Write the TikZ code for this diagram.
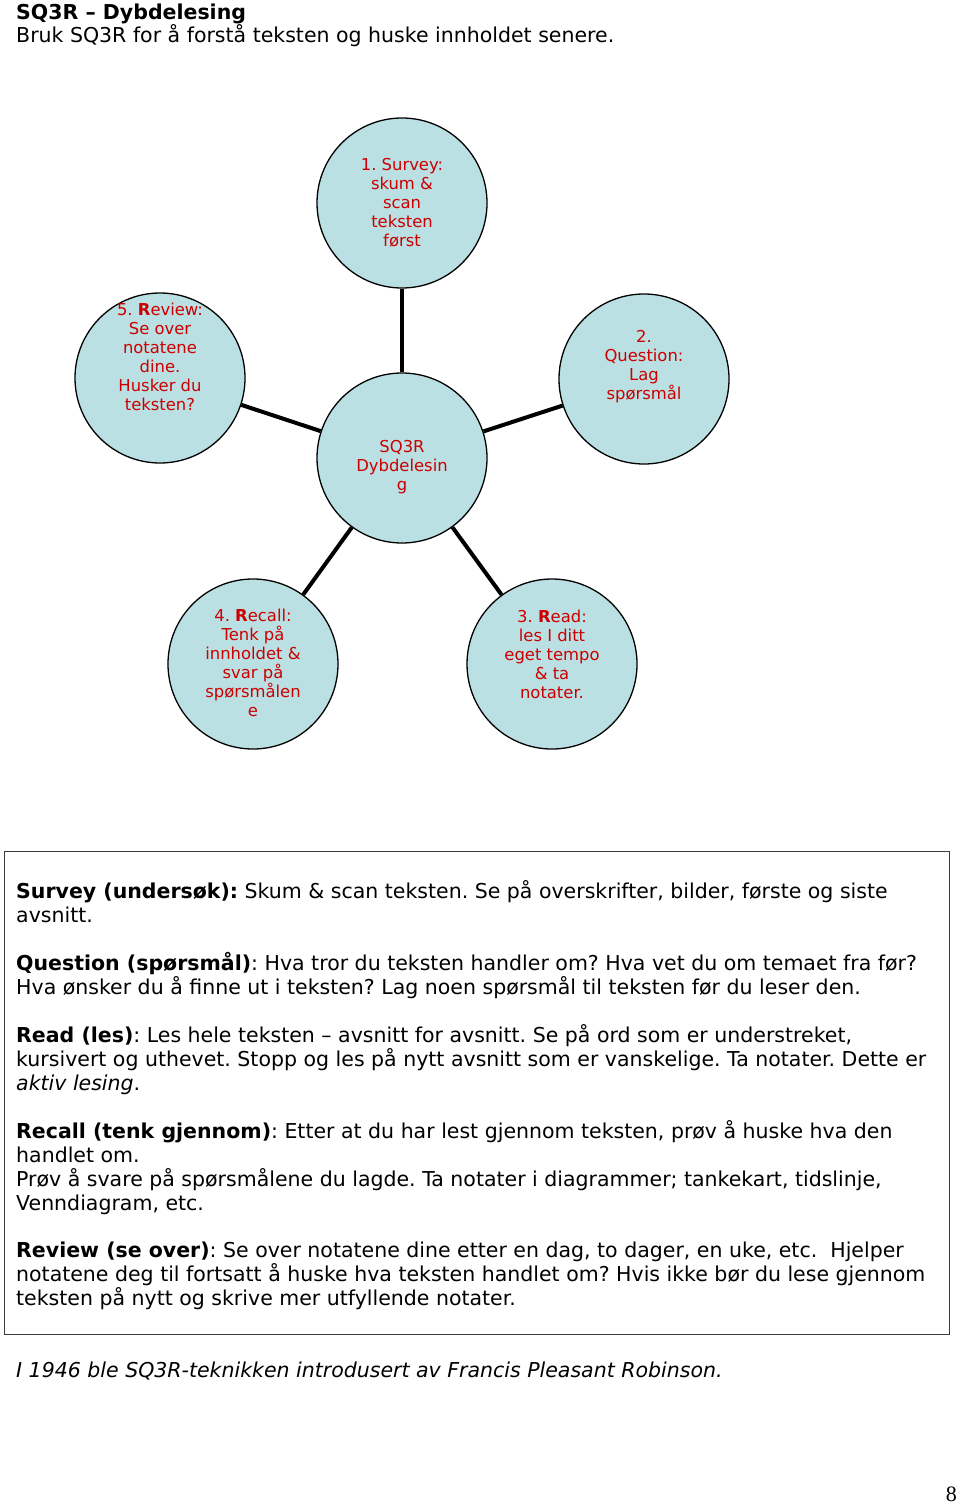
\documentclass[tikz,border=0pt]{standalone}
\usepackage{fontspec}
\setmainfont{DejaVu Sans}
\newfontfamily\pagefont{Liberation Serif}
\definecolor{fillblue}{RGB}{187,224,227}
\definecolor{txtred}{RGB}{204,0,0}
\definecolor{boxgray}{RGB}{60,60,60}
\frenchspacing
\begin{document}
\begin{tikzpicture}[x=1pt,y=1pt,
  bubble/.style={circle,draw=black,line width=1.3pt,fill=fillblue,minimum size=170pt,inner sep=0pt},
  btext/.style={text=txtred,align=center,font=\frenchspacing\fontsize{16.4}{19}\selectfont,inner sep=0pt},
  spoke/.style={line width=4pt,black},
  body/.style={anchor=base west,inner sep=0pt,font=\frenchspacing\fontsize{20.5}{24}\selectfont},
  frame/.style={draw=boxgray,line width=1.3pt,anchor=north west,minimum width=945pt,minimum height=483pt,inner sep=0pt}]
\useasboundingbox (0,0) rectangle (960,-1503);

% title
\node[body,font=\fontsize{20.5}{24}\selectfont\bfseries] (title) at (16,-20) {SQ3R – Dybdelesing};
\node[body] (sub) at (16,-43) {Bruk SQ3R for å forstå teksten og huske innholdet senere.};

% circles
\node[bubble] (c)  at (402,-458) {};
\node[bubble] (s1) at (402,-203) {};
\node[bubble] (s2) at (644,-379) {};
\node[bubble] (s3) at (552,-664) {};
\node[bubble] (s4) at (253,-664) {};
\node[bubble] (s5) at (160,-378) {};

\foreach \s in {s1,s2,s3,s4,s5} \draw[spoke] (c) -- (\s);

\node[btext] (t0) at (402,-467) {SQ3R\\Dybdelesin\\g};
\node[btext] (t1) at (402,-203) {1. Survey:\\skum \&\\scan\\teksten\\først};
\node[btext] (t2) at (644,-367) {2.\\Question:\\Lag\\spørsmål};
\node[btext] (t3) at (552,-654) {3. \textbf{R}ead:\\les I ditt\\eget tempo\\\& ta\\notater.};
\node[btext] (t4) at (253,-663) {4. \textbf{R}ecall:\\Tenk på\\innholdet \&\\svar på\\spørsmålen\\e};
\node[btext] (t5) at (160,-357) {5. \textbf{R}eview:\\Se over\\notatene\\dine.\\Husker du\\teksten?};

% box
\node[frame] (box) at (4,-851) {};
\node[body] (l1) at (16,-898) {\textbf{Survey (undersøk):} Skum \& scan teksten. Se på overskrifter, bilder, første og siste};
\node[body] (l2) at (16,-922) {avsnitt.};
\node[body] (l3) at (16,-970) {\textbf{Question (spørsmål)}: Hva tror du teksten handler om? Hva vet du om temaet fra før?};
\node[body] (l4) at (16,-994) {Hva ønsker du å finne ut i teksten? Lag noen spørsmål til teksten før du leser den.};
\node[body] (l5) at (16,-1042) {\textbf{Read (les)}: Les hele teksten – avsnitt for avsnitt. Se på ord som er understreket,};
\node[body] (l6) at (16,-1066) {kursivert og uthevet. Stopp og les på nytt avsnitt som er vanskelige. Ta notater. Dette er};
\node[body] (l7) at (16,-1090) {\textit{aktiv lesing}.};
\node[body] (l8) at (16,-1138) {\textbf{Recall (tenk gjennom)}: Etter at du har lest gjennom teksten, prøv å huske hva den};
\node[body] (l9) at (16,-1162) {handlet om.};
\node[body] (l10) at (16,-1186) {Prøv å svare på spørsmålene du lagde. Ta notater i diagrammer; tankekart, tidslinje,};
\node[body] (l11) at (16,-1210) {Venndiagram, etc.};
\node[body] (l12) at (16,-1257) {\textbf{Review (se over)}: Se over notatene dine etter en dag, to dager, en uke, etc.\ \ Hjelper};
\node[body] (l13) at (16,-1281) {notatene deg til fortsatt å huske hva teksten handlet om? Hvis ikke bør du lese gjennom};
\node[body] (l14) at (16,-1305) {teksten på nytt og skrive mer utfyllende notater.};

\node[body,font=\frenchspacing\fontsize{20.5}{24}\selectfont\itshape] (foot) at (16,-1377) {I 1946 ble SQ3R-teknikken introdusert av Francis Pleasant Robinson.};

\node[anchor=base east,inner sep=0pt,font=\pagefont\fontsize{22}{24}\selectfont] (pg) at (957,-1501) {8};
\end{tikzpicture}
\end{document}
